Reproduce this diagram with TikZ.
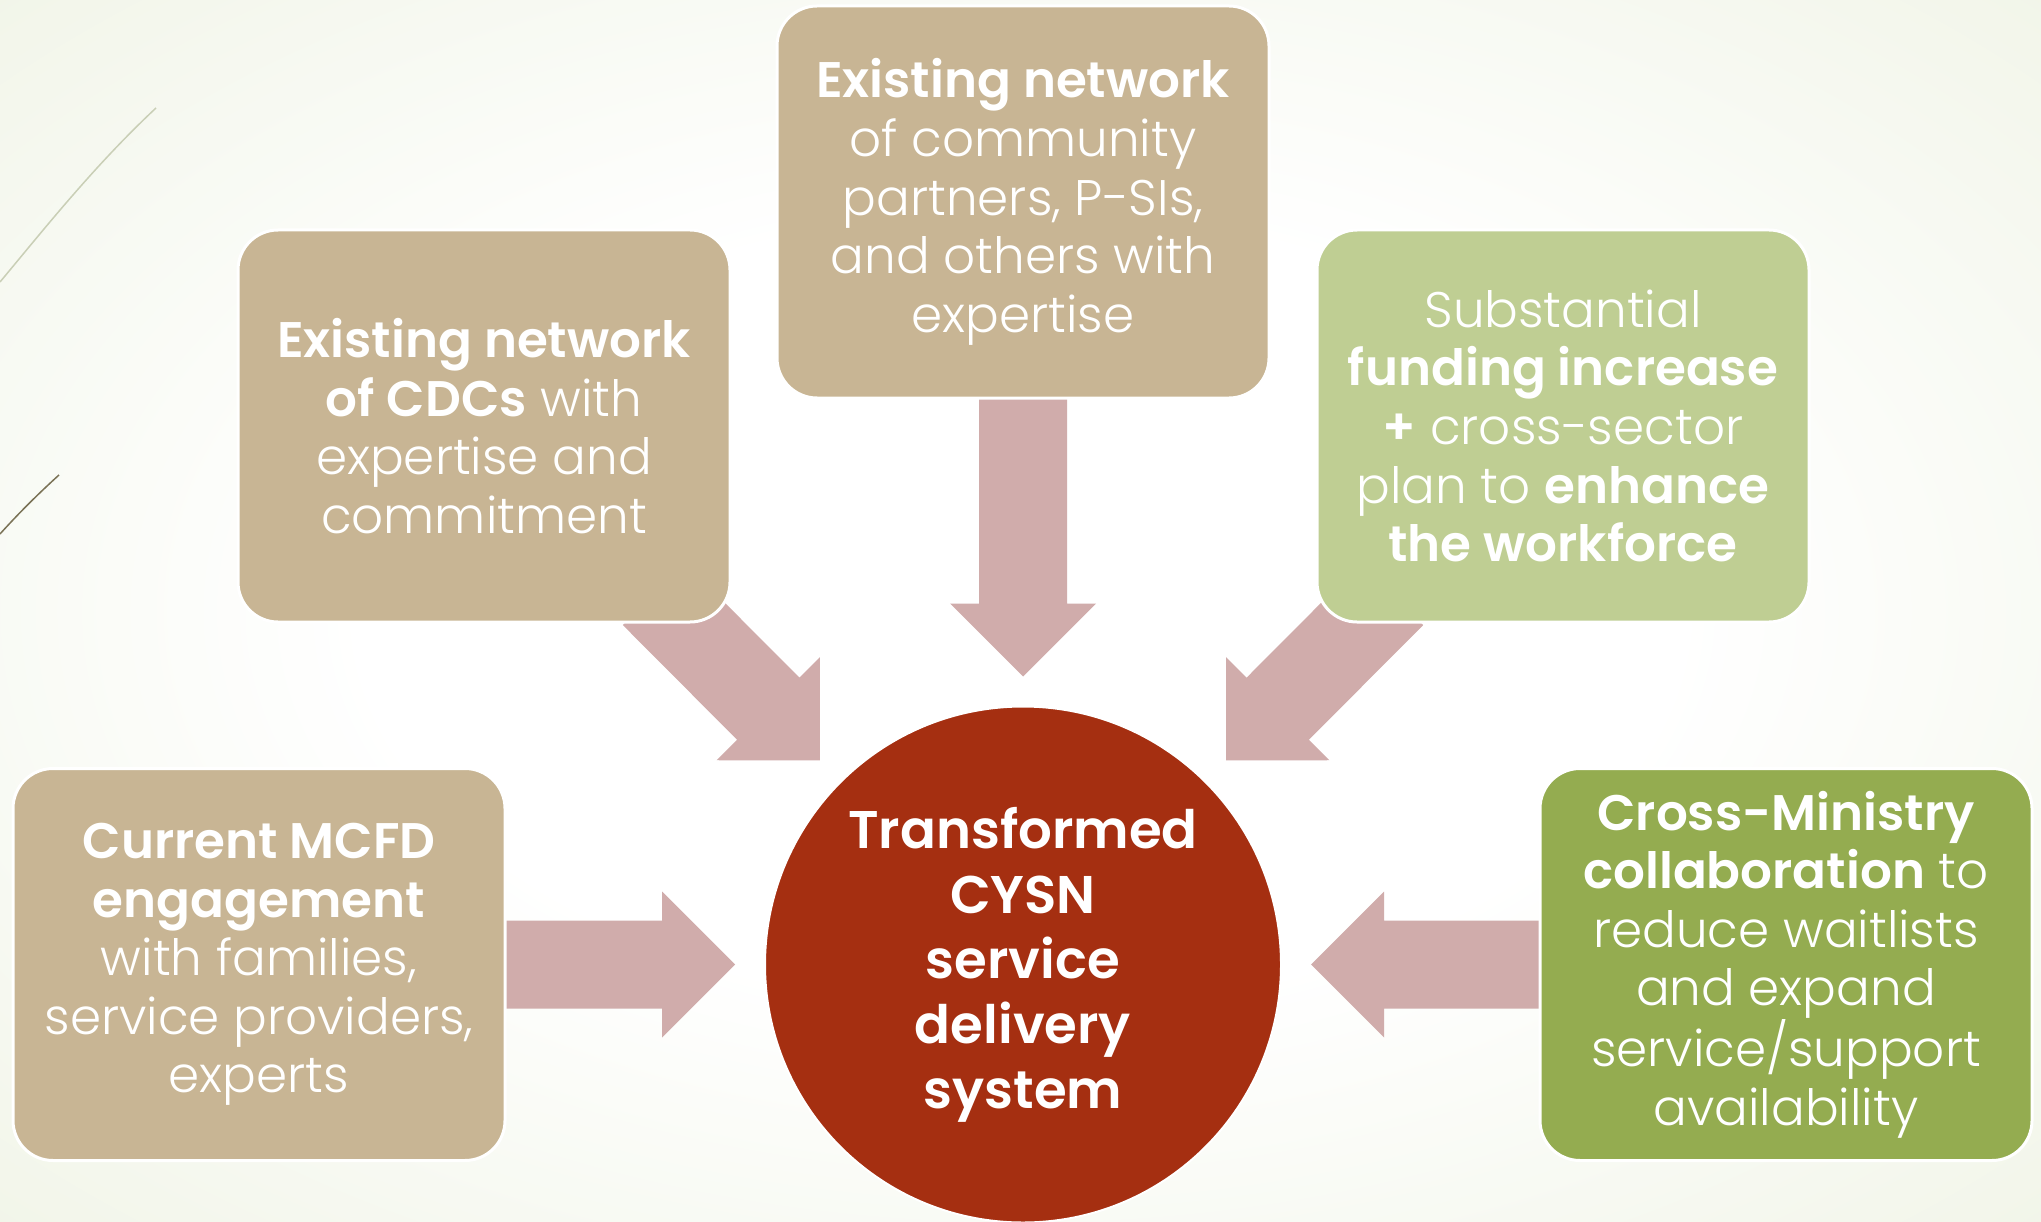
\documentclass[tikz,border=0pt]{standalone}
\usepackage{fontspec}
\setmainfont{Poppins}[UprightFont=* Light,BoldFont=* SemiBold]
\usetikzlibrary{calc}

\definecolor{tanbox}{HTML}{C8B594}
\definecolor{lightgreen}{HTML}{BFCE93}
\definecolor{darkgreen}{HTML}{94AC50}
\definecolor{hubred}{HTML}{A52F11}
\definecolor{arrowpink}{HTML}{D0ACAB}
\definecolor{bgedge}{HTML}{E8EED9}
\definecolor{bgcorner}{HTML}{E0E8CA}
\definecolor{wispfaint}{HTML}{C9CFB6}
\definecolor{wispdark}{HTML}{7A7256}

\pgfdeclareradialshading{bgglow}{\pgfpoint{0bp}{0bp}}{color(0bp)=(white);color(16bp)=(white);color(50bp)=(bgedge);color(72bp)=(bgcorner)}

% block arrow from tail #1 to tip #2
\newcommand{\blockarrow}[2]{%
  \coordinate (headbase) at ($(#2)!73pt!(#1)$);
  \fill[arrowpink] ($(#1)!44pt!90:(#2)$) -- ($(headbase)!44pt!-90:(#1)$) -- ($(headbase)!73pt!-90:(#1)$) -- (#2) -- ($(headbase)!73pt!90:(#1)$) -- ($(headbase)!44pt!90:(#1)$) -- ($(#1)!44pt!-90:(#2)$) -- cycle;}

\begin{document}
\begin{tikzpicture}[x=1pt,y=1pt,yscale=-1,xscale=1,
  infobox/.style={rectangle,rounded corners=40pt,draw=white,line width=3pt,text=white,align=center,
    minimum width=492pt,minimum height=392pt,font=\fontsize{50}{58.6}\selectfont},
  hubdisc/.style={circle,fill=hubred,draw=white,line width=2pt,text=white,align=center,
    minimum size=516pt,font=\fontsize{53}{65}\selectfont\bfseries}]
\useasboundingbox (0,0) rectangle (2041,1222);
%Shape: Background
\shade[shading=bgglow] (0,0) rectangle (2041,1222);
%Curve Lines
\draw[wispfaint,line width=1.5pt] (0,282) .. controls (45,228) and (95,165) .. (156,108);
\draw[wispdark,line width=1.5pt] (0,534) .. controls (18,514) and (38,494) .. (59,475);

% Hub
\node[hubdisc] (hub) at (1023,964.5) {Transformed\\CYSN\\service\\delivery\\system};

%Shape: Block Arrows
\coordinate (netwTail) at (1023,397);
\coordinate (cdcTail) at (654,594);
\coordinate (fundTail) at (1392,594);
\coordinate (mcfdTail) at (505,964.5);
\coordinate (xminTail) at (1541,964.5);
\coordinate (netwTip) at ($(hub.center)!288pt!(netwTail)$);
\coordinate (cdcTip) at ($(hub.center)!288pt!(cdcTail)$);
\coordinate (fundTip) at ($(hub.center)!288pt!(fundTail)$);
\coordinate (mcfdTip) at ($(hub.center)!288pt!(mcfdTail)$);
\coordinate (xminTip) at ($(hub.center)!288pt!(xminTail)$);
\blockarrow{netwTail}{netwTip}
\blockarrow{cdcTail}{cdcTip}
\blockarrow{fundTail}{fundTip}
\blockarrow{mcfdTail}{mcfdTip}
\blockarrow{xminTail}{xminTip}

% Text Node
\node[infobox,fill=tanbox] (netw) at (1023,202) {\textbf{Existing network}\\of community\\partners, P-SIs,\\and others with\\expertise};
% Text Node
\node[infobox,fill=tanbox] (cdc) at (484,426) {\textbf{Existing network}\\\textbf{of CDCs} with\\expertise and\\commitment};
% Text Node
\node[infobox,fill=lightgreen] (fund) at (1563,426) {Substantial\\\textbf{funding increase}\\\textbf{+} cross-sector\\plan to \textbf{enhance}\\\textbf{the workforce}};
% Text Node
\node[infobox,fill=tanbox] (mcfd) at (259,964.5) {\textbf{Current MCFD}\\\textbf{engagement}\\with families,\\service providers,\\experts};
% Text Node
\node[infobox,fill=darkgreen] (xmin) at (1786,964.5) {\textbf{Cross-Ministry}\\\textbf{collaboration} to\\reduce waitlists\\and expand\\service/support\\availability};
\end{tikzpicture}
\end{document}
